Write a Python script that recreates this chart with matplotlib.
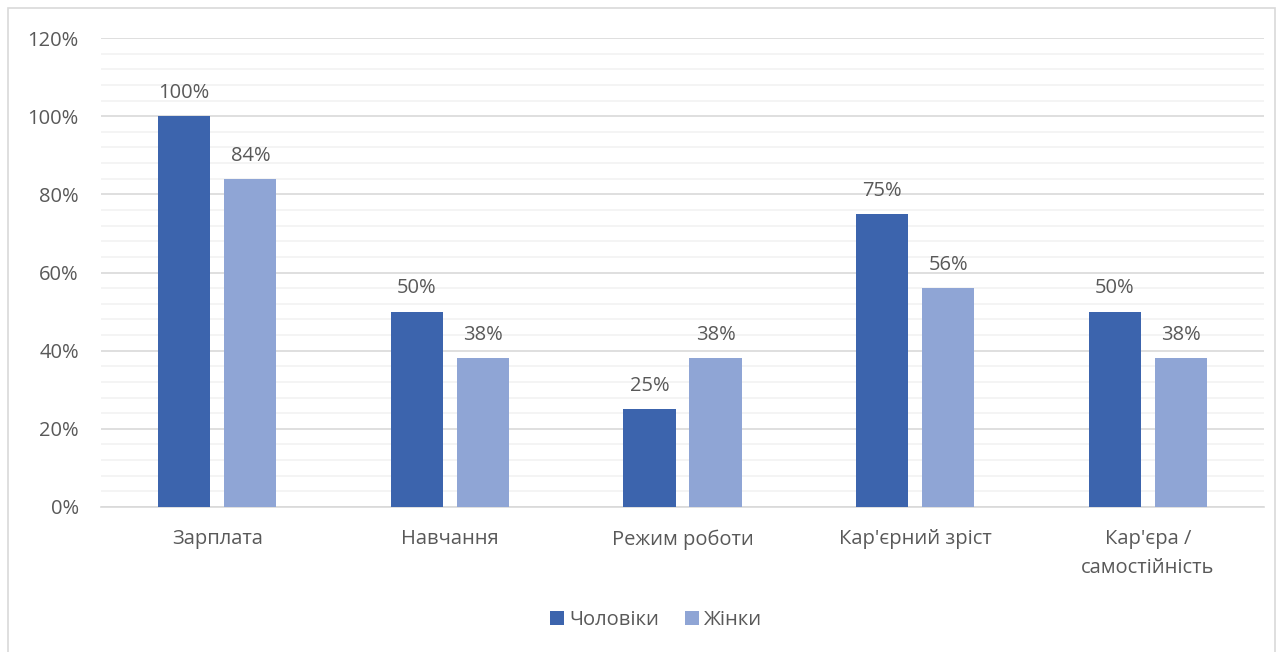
import matplotlib
matplotlib.use("Agg")
import matplotlib.pyplot as plt
from matplotlib.patches import Rectangle
from matplotlib.ticker import MultipleLocator, PercentFormatter
import numpy as np

plt.rcParams['font.family'] = ['Open Sans', 'DejaVu Sans']

categories = ["Зарплата", "Навчання", "Режим роботи", "Кар'єрний зріст", "Кар'єра /\nсамостійність"]
men = [100, 50, 25, 75, 50]
women = [84, 38, 38, 56, 38]
series_names = ["Чоловіки", "Жінки"]
colors = ["#3C64AD", "#8FA5D5"]
text_color = "#595959"
fs = 14.5

W, H = 1283, 652
fig = plt.figure(figsize=(W / 100, H / 100), dpi=100)
ax = fig.add_axes([101 / W, 1 - 507 / H, (1264 - 101) / W, (507 - 38) / H])

x = np.arange(len(categories))
bw = 0.224
off = (bw + 0.06) / 2
b1 = ax.bar(x - off, men, bw, color=colors[0], label=series_names[0], zorder=3)
b2 = ax.bar(x + off, women, bw, color=colors[1], label=series_names[1], zorder=3)

for bars, vals in ((b1, men), (b2, women)):
    for r, v in zip(bars, vals):
        ax.annotate(f"{v}%", (r.get_x() + r.get_width() / 2, v), xytext=(0, 9.5),
                    textcoords="offset points", ha="center", va="bottom",
                    fontsize=fs, color=text_color)

ax.set_xlim(-0.5, len(categories) - 0.5)
ax.set_ylim(0, 120)
ax.yaxis.set_major_locator(MultipleLocator(20))
ax.yaxis.set_minor_locator(MultipleLocator(4))
ax.yaxis.set_major_formatter(PercentFormatter(decimals=0))
ax.grid(axis="y", which="major", color="#D9D9D9", linewidth=1.2, zorder=0)
ax.grid(axis="y", which="minor", color="#F2F2F2", linewidth=1.2, zorder=0)
ax.set_axisbelow(True)
for s in ("top", "right", "left"):
    ax.spines[s].set_visible(False)
ax.spines["bottom"].set_color("#D9D9D9")
ax.spines["bottom"].set_linewidth(1.2)

ax.set_xticks(x)
ax.set_xticklabels(categories, fontsize=fs, color=text_color, linespacing=1.6)
ax.tick_params(axis="x", length=0, pad=16)
ax.tick_params(axis="y", which="both", length=0, labelsize=fs, labelcolor=text_color, pad=16)

leg = fig.legend(handles=[b1, b2], labels=series_names, loc="center",
                 bbox_to_anchor=(656 / W, 1 - 620 / H), ncol=2, frameon=False,
                 fontsize=fs, handlelength=0.7, handleheight=0.7, handletextpad=0.25,
                 columnspacing=1.3)
for t in leg.get_texts():
    t.set_color(text_color)

fig.patches.append(Rectangle((8 / W, -0.05), (1275 - 8) / W, 1 - 8 / H + 0.05,
                             transform=fig.transFigure, fill=False,
                             edgecolor="#D9D9D9", linewidth=1.2))

fig.savefig("out.png", dpi=100)
